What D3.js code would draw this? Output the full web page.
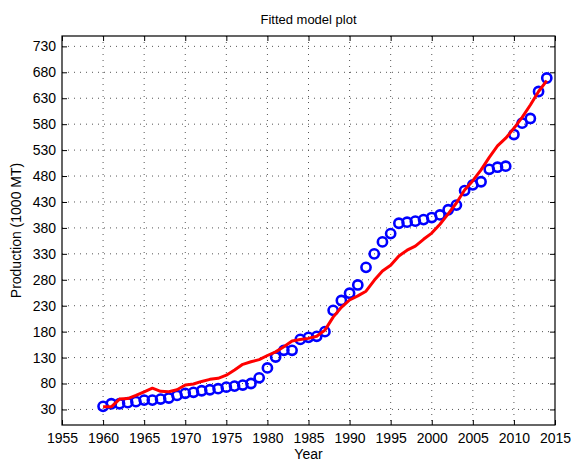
<!DOCTYPE html>
<html>
<head>
<meta charset="utf-8">
<script src="https://cdn.jsdelivr.net/npm/d3@7"></script>
<style>
  body { margin: 0; background: #fff; }
  svg { display: block; font-family: "Liberation Sans", Arial, sans-serif; }
</style>
</head>
<body>
<svg id="chart" width="571" height="461"></svg>
<script>
// Observed production and fitted model (1000 MT)
const years = d3.range(1960, 2015);
const observed = [36, 41, 41, 43, 45, 48, 48, 50, 52, 57,
  61, 63, 66, 68, 70, 73, 75, 77, 80, 91,
  110, 131, 144, 144, 165, 169, 171, 180, 221, 240,
  254, 270, 304, 330, 353, 369, 389, 391, 393, 396,
  400, 405, 415, 424, 452, 463, 469, 493, 497, 499,
  560, 582, 591, 643, 669];
const fitted = [35, 35, 50, 51, 57, 64, 71, 65, 64, 68,
  77, 79, 84, 88, 90, 96, 106, 117, 122, 126,
  134, 141, 151, 162, 165, 167, 171, 183, 208, 227,
  241, 249, 258, 279, 297, 308, 326, 337, 345, 358,
  370, 387, 407, 428, 453, 471, 492, 516, 538, 553,
  572, 593, 617, 643, 664];
const xTicks = d3.range(1955, 2016, 5);
const yTicks = d3.range(30, 731, 50);

const margin = { left: 62, top: 36, right: 16, bottom: 36 };
const width = 571 - margin.left - margin.right;
const height = 461 - margin.top - margin.bottom;

const svg = d3.select("#chart");
const g = svg.append("g").attr("transform", `translate(${margin.left},${margin.top})`);

const x = d3.scaleLinear().domain([1955, 2015]).range([0, width]);
const y = d3.scaleLinear().domain([0, 750]).range([height, 0]);

// dotted grid
g.append("g").selectAll("line").data(xTicks.slice(1, -1)).enter().append("line")
  .attr("x1", d => x(d)).attr("x2", d => x(d))
  .attr("y1", 0).attr("y2", height)
  .attr("stroke", "#555").attr("stroke-width", 1).attr("stroke-dasharray", "1,5");
g.append("g").selectAll("line").data(yTicks).enter().append("line")
  .attr("x1", 0).attr("x2", width)
  .attr("y1", d => y(d)).attr("y2", d => y(d))
  .attr("stroke", "#555").attr("stroke-width", 1).attr("stroke-dasharray", "1,5");

// axes with inward ticks
function styleAxis(sel) {
  sel.select(".domain").remove();
  sel.selectAll("line").attr("stroke", "#000");
  sel.selectAll("text").attr("fill", "#000").style("font-size", "14px");
}
g.append("g").attr("transform", `translate(0,${height})`)
  .call(d3.axisBottom(x).tickValues(xTicks).tickFormat(d3.format("d")).tickSizeInner(-5).tickPadding(8))
  .call(styleAxis);
g.append("g")
  .call(d3.axisTop(x).tickValues(xTicks).tickFormat("").tickSizeInner(-5))
  .call(styleAxis);
g.append("g")
  .call(d3.axisLeft(y).tickValues(yTicks).tickSizeInner(-5).tickPadding(6))
  .call(styleAxis);
g.append("g").attr("transform", `translate(${width},0)`)
  .call(d3.axisRight(y).tickValues(yTicks).tickFormat("").tickSizeInner(-5))
  .call(styleAxis);

g.append("rect").attr("width", width).attr("height", height)
  .attr("fill", "none").attr("stroke", "#000").attr("stroke-width", 1.2);

// observed markers
g.append("g").selectAll("circle").data(years).enter().append("circle")
  .attr("cx", (d) => x(d))
  .attr("cy", (d, i) => y(observed[i]))
  .attr("r", 4.6)
  .attr("fill", "none").attr("stroke", "#0000ff").attr("stroke-width", 2.6);

// fitted line
const line = d3.line().x((d) => x(d)).y((d, i) => y(fitted[i]));
g.append("path").datum(years).attr("d", line)
  .attr("fill", "none").attr("stroke", "#ff0000").attr("stroke-width", 3)
  .attr("stroke-linejoin", "round");

// labels
svg.append("text").attr("x", margin.left + width / 2).attr("y", 24)
  .attr("text-anchor", "middle").style("font-size", "13px").text("Fitted model plot");
svg.append("text").attr("x", margin.left + width / 2).attr("y", 459)
  .attr("text-anchor", "middle").style("font-size", "14px").text("Year");
svg.append("text").attr("transform", `translate(21,${margin.top + height / 2}) rotate(-90)`)
  .attr("text-anchor", "middle").style("font-size", "14px").text("Production (1000 MT)");
</script>
</body>
</html>
